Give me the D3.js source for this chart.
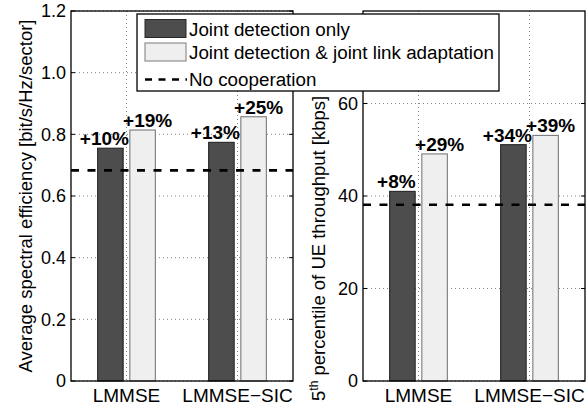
<!DOCTYPE html>
<html>
<head>
<meta charset="utf-8">
<script src="https://cdn.jsdelivr.net/npm/d3@7"></script>
<style>
  body { margin: 0; background: #fff; }
  svg { display: block; font-family: "Liberation Sans", Arial, Helvetica, sans-serif; }
</style>
</head>
<body>
<div id="chart"></div>
<script>
  // categories and series
  var categories = ["LMMSE", "LMMSE\u2212SIC"];
  var seriesNames = ["Joint detection only", "Joint detection & joint link adaptation", "No cooperation"];

  // left panel: average spectral efficiency
  var specJointDet = [0.755, 0.774];
  var specJointLA = [0.814, 0.857];
  var specNoCoop = 0.683;
  var specGainJD = ["+10%", "+13%"];
  var specGainLA = ["+19%", "+25%"];
  var specTicks = [0, 0.2, 0.4, 0.6, 0.8, 1.0, 1.2];
  var specTickLabels = ["0", "0.2", "0.4", "0.6", "0.8", "1.0", "1.2"];

  // right panel: 5th percentile UE throughput
  var tputJointDet = [41.0, 51.1];
  var tputJointLA = [49.1, 53.1];
  var tputNoCoop = 38.1;
  var tputGainJD = ["+8%", "+34%"];
  var tputGainLA = ["+29%", "+39%"];
  var tputTicks = [0, 20, 40, 60];
  var tputTickLabels = ["0", "20", "40", "60"];

  var W = 586, H = 406;
  var darkFill = "#4d4d4d", lightFill = "#efefef";

  var svg = d3.select("#chart").append("svg")
    .attr("width", W)
    .attr("height", H);

  function drawPanel(opt) {
    var x = d3.scaleLinear().domain([0.5, 2.5]).range([opt.left, opt.right]);
    var y = d3.scaleLinear().domain(opt.yDomain).range([381, 11]);
    var g = svg.append("g");

    // dotted grid
    g.selectAll(".hg").data(opt.ticks).enter().append("line")
      .attr("x1", opt.left).attr("x2", opt.right)
      .attr("y1", function(d) { return y(d); })
      .attr("y2", function(d) { return y(d); })
      .attr("stroke", "#666").attr("stroke-width", 0.8)
      .attr("stroke-dasharray", "1,3");
    g.selectAll(".vg").data([1, 2]).enter().append("line")
      .attr("x1", function(d) { return x(d); })
      .attr("x2", function(d) { return x(d); })
      .attr("y1", 11).attr("y2", 381)
      .attr("stroke", "#666").attr("stroke-width", 0.8)
      .attr("stroke-dasharray", "1,3");

    // bars
    var bw = x(1.23) - x(1);
    [[opt.jd, -0.145, darkFill, "#262626"], [opt.la, 0.145, lightFill, "#7a7a7a"]].forEach(function(s) {
      g.selectAll(null).data(s[0]).enter().append("rect")
        .attr("x", function(d, i) { return x(i + 1 + s[1]) - bw / 2; })
        .attr("width", bw)
        .attr("y", function(d) { return y(d); })
        .attr("height", function(d) { return y(0) - y(d); })
        .attr("fill", s[2])
        .attr("stroke", s[3])
        .attr("stroke-width", 1.1);
    });

    // no cooperation reference
    g.append("line")
      .attr("x1", opt.left).attr("x2", opt.right)
      .attr("y1", y(opt.base)).attr("y2", y(opt.base))
      .attr("stroke", "#000").attr("stroke-width", 2.6)
      .attr("stroke-dasharray", "8,8.5");

    // axes box
    g.append("rect")
      .attr("x", opt.left).attr("y", 11)
      .attr("width", opt.right - opt.left).attr("height", 370)
      .attr("fill", "none").attr("stroke", "#000").attr("stroke-width", 1.3);

    // inward ticks
    opt.ticks.forEach(function(t) {
      g.append("line").attr("x1", opt.left).attr("x2", opt.left + 4)
        .attr("y1", y(t)).attr("y2", y(t)).attr("stroke", "#000");
      g.append("line").attr("x1", opt.right).attr("x2", opt.right - 4)
        .attr("y1", y(t)).attr("y2", y(t)).attr("stroke", "#000");
    });

    // tick labels
    g.selectAll(".yl").data(opt.ticks).enter().append("text")
      .attr("x", opt.left - 5)
      .attr("y", function(d) { return y(d); })
      .attr("dy", "0.36em")
      .attr("text-anchor", "end")
      .style("font-size", "18px")
      .text(function(d, i) { return opt.tickLabels[i]; });
    g.selectAll(".xl").data(categories).enter().append("text")
      .attr("x", function(d, i) { return x(i + 1); })
      .attr("y", 402)
      .attr("text-anchor", "middle")
      .style("font-size", "19px")
      .text(function(d) { return d; });

    // gain annotations
    [[opt.jd, opt.gainJD, -0.145, -6], [opt.la, opt.gainLA, 0.145, 5]].forEach(function(s) {
      g.selectAll(null).data(s[0]).enter().append("text")
        .attr("x", function(d, i) { return x(i + 1 + s[2]) + s[3]; })
        .attr("y", function(d) { return y(d) - 3; })
        .attr("text-anchor", "middle")
        .style("font-size", "19px")
        .style("font-weight", "bold")
        .text(function(d, i) { return s[1][i]; });
    });
    return g;
  }

  drawPanel({ left: 71, right: 293, yDomain: [0, 1.2], ticks: specTicks, tickLabels: specTickLabels,
    jd: specJointDet, la: specJointLA, base: specNoCoop, gainJD: specGainJD, gainLA: specGainLA });
  drawPanel({ left: 363, right: 585, yDomain: [0, 80], ticks: tputTicks, tickLabels: tputTickLabels,
    jd: tputJointDet, la: tputJointLA, base: tputNoCoop, gainJD: tputGainJD, gainLA: tputGainLA });

  // y-axis labels
  svg.append("text")
    .attr("transform", "translate(32,196) rotate(-90)")
    .attr("text-anchor", "middle")
    .style("font-size", "18.5px")
    .text("Average spectral efficiency [bit/s/Hz/sector]");

  var yl2 = svg.append("text")
    .attr("transform", "translate(325,401) rotate(-90)")
    .attr("text-anchor", "start")
    .style("font-size", "18.5px");
  yl2.append("tspan").text("5");
  yl2.append("tspan").attr("dy", -7).style("font-size", "12px").text("th");
  yl2.append("tspan").attr("dy", 7).text(" percentile of UE throughput [kbps]");

  // legend
  var lg = svg.append("g");
  lg.append("rect")
    .attr("x", 137).attr("y", 14).attr("width", 362).attr("height", 77)
    .attr("fill", "#fff").attr("stroke", "#000").attr("stroke-width", 1.3);
  lg.append("rect").attr("x", 145).attr("y", 19.5).attr("width", 41).attr("height", 18)
    .attr("fill", darkFill).attr("stroke", "#262626");
  lg.append("rect").attr("x", 145).attr("y", 43).attr("width", 41).attr("height", 18)
    .attr("fill", lightFill).attr("stroke", "#7a7a7a");
  lg.append("line").attr("x1", 145).attr("x2", 187).attr("y1", 79.5).attr("y2", 79.5)
    .attr("stroke", "#000").attr("stroke-width", 2.6).attr("stroke-dasharray", "7,6.5");
  lg.selectAll(".lt").data(seriesNames).enter().append("text")
    .attr("x", 189)
    .attr("y", function(d, i) { return [29, 52.5, 79.5][i]; })
    .attr("dy", "0.36em")
    .style("font-size", "18.8px")
    .text(function(d) { return d; });
</script>
</body>
</html>
